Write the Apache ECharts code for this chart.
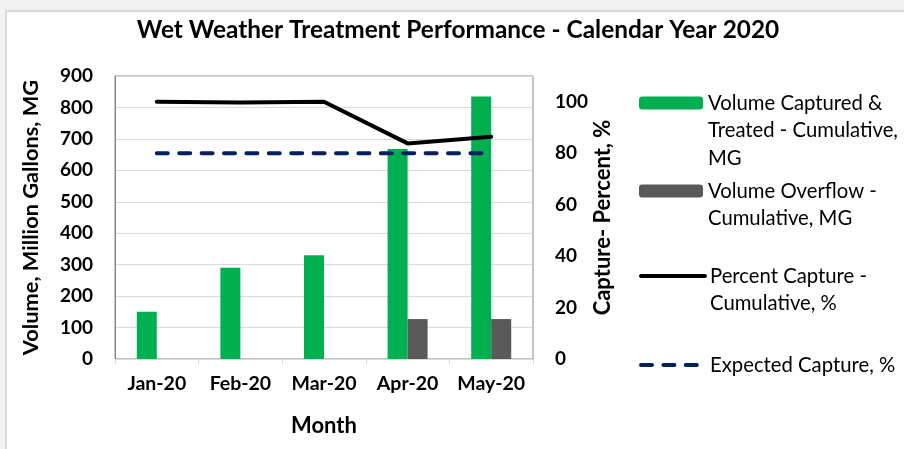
<!DOCTYPE html>
<html><head><meta charset="utf-8">
<script src="https://cdn.jsdelivr.net/npm/echarts@6/dist/echarts.min.js"></script>
<style>html,body{margin:0;padding:0;background:#fff}#c{width:904px;height:449px}</style>
</head><body><div id="c"></div>
<script>
const months = ['Jan-20','Feb-20','Mar-20','Apr-20','May-20'];
const capturedTreated = [150, 290, 330, 668, 835];
const overflow = [null, null, null, 127, 127];
const percentCapture = [100, 99.7, 100, 83.8, 86.4];
const expectedCapture = [80, 80, 80, 80, 80];
const names = ['Volume Captured &\nTreated - Cumulative,\nMG', 'Volume Overflow -\nCumulative, MG', 'Percent Capture -\nCumulative, %', 'Expected Capture, %'];

const FONT = 'Lato';
const LH = 27.5;
const chart = echarts.init(document.getElementById('c'));
function leg(name, iconCenter, extra) {
  const lines = name.split('\n').length;
  const total = (2 * lines - 1) * LH;
  return Object.assign({
    data: [name], left: 634, top: iconCenter - total / 2 - 2, orient: 'vertical',
    itemWidth: 64, itemHeight: 13, itemGap: 0,
    formatter: n => '\n'.repeat(lines - 1) + n,
    textStyle: { fontFamily: FONT, fontSize: 20.3, color: '#000', lineHeight: LH },
    selectedMode: false
  }, extra || {});
}
chart.setOption({
  animation: false,
  backgroundColor: '#fff',
  graphic: [
    { type: 'rect', shape: { x: 0, y: 0, width: 904, height: 10 }, style: { fill: '#f2f2f2' }, silent: true },
    { type: 'rect', shape: { x: 0, y: 0, width: 5, height: 449 }, style: { fill: '#f2f2f2' }, silent: true },
    { type: 'line', shape: { x1: 5, y1: 11, x2: 904, y2: 11 }, style: { stroke: '#d9d9d9', lineWidth: 2 }, silent: true },
    { type: 'line', shape: { x1: 6, y1: 10, x2: 6, y2: 449 }, style: { stroke: '#d9d9d9', lineWidth: 2 }, silent: true }
  ],
  title: {
    text: 'Wet Weather Treatment Performance - Calendar Year 2020',
    left: 453, top: 13, textAlign: 'center',
    textStyle: { fontFamily: FONT, fontSize: 24.4, fontWeight: 'bold', color: '#000' }
  },
  grid: { left: 115, top: 76, right: 371, bottom: 90, show: true, borderColor: '#868686', borderWidth: 1, backgroundColor: 'transparent' },
  legend: [
    leg(names[0], 100),
    leg(names[1], 188),
    leg(names[2], 273, { itemStyle: { opacity: 0 }, lineStyle: { width: 4, color: '#000', cap: 'round', opacity: 1 } }),
    leg(names[3], 362, { itemStyle: { opacity: 0 }, lineStyle: { width: 4, color: '#002060', type: [11, 11.4], cap: 'round', opacity: 1 } })
  ],
  xAxis: {
    type: 'category', data: months,
    name: 'Month', nameLocation: 'middle', nameGap: 56,
    nameTextStyle: { fontFamily: FONT, fontSize: 22, fontWeight: 'bold', color: '#000' },
    axisLine: { lineStyle: { color: '#d9d9d9', width: 1 } },
    axisTick: { show: true, length: 5, lineStyle: { color: '#d9d9d9' } },
    axisLabel: { interval: 0, fontFamily: FONT, fontSize: 19.5, fontWeight: 'bold', color: '#000', margin: 15 }
  },
  yAxis: [
    {
      type: 'value', min: 0, max: 900, interval: 100,
      name: 'Volume, Million Gallons, MG', nameLocation: 'middle', nameGap: 73, nameRotate: 90,
      nameTextStyle: { fontFamily: FONT, fontSize: 21.8, fontWeight: 'bold', color: '#000' },
      axisLine: { show: true, lineStyle: { color: '#868686' } },
      axisTick: { show: false },
      splitLine: { lineStyle: { color: '#d9d9d9', width: 1 } },
      axisLabel: { fontFamily: FONT, fontSize: 19, fontWeight: 'bold', color: '#000', margin: 22 }
    },
    {
      type: 'value', min: 0, max: 110, interval: 20,
      name: 'Capture- Percent, %', nameLocation: 'middle', nameGap: 58, nameRotate: 90,
      nameTextStyle: { fontFamily: FONT, fontSize: 22, fontWeight: 'bold', color: '#000' },
      axisLine: { show: false }, axisTick: { show: false }, splitLine: { show: false },
      axisLabel: { fontFamily: FONT, fontSize: 19, fontWeight: 'bold', color: '#000', margin: 22, showMaxLabel: false }
    }
  ],
  series: [
    { name: names[0], type: 'bar', data: capturedTreated, barWidth: 20, barGap: '0%', itemStyle: { color: '#00b050' } },
    { name: names[1], type: 'bar', data: overflow, barWidth: 20, barGap: '0%', itemStyle: { color: '#595959' } },
    { name: names[2], type: 'line', yAxisIndex: 1, data: percentCapture, symbol: 'none', lineStyle: { color: '#000', width: 4, cap: 'round' }, itemStyle: { color: '#000' } },
    { name: names[3], type: 'line', yAxisIndex: 1, data: expectedCapture, symbol: 'none', lineStyle: { color: '#002060', width: 4, type: [11, 11.4], cap: 'round' }, itemStyle: { color: '#002060' } }
  ]
});
</script></body></html>
